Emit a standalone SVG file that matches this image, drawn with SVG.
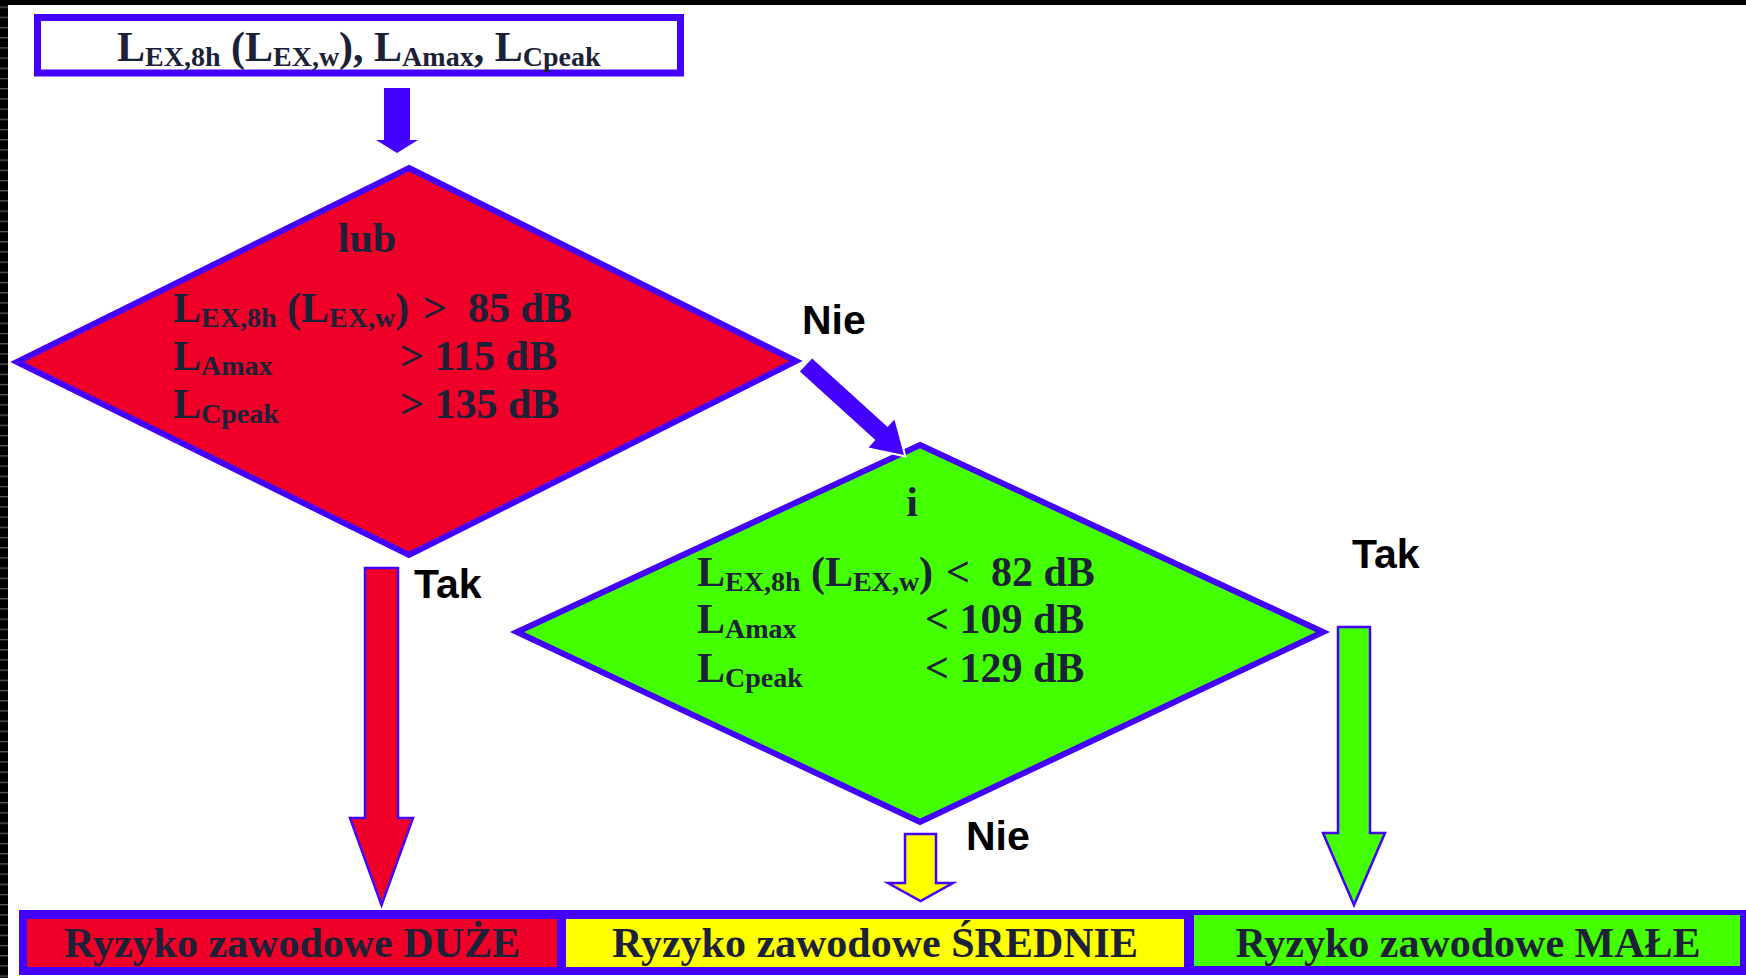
<svg xmlns="http://www.w3.org/2000/svg" width="1746" height="978" viewBox="0 0 1746 978">
<defs>
<pattern id="strip" x="0" y="0" width="8" height="10.2" patternUnits="userSpaceOnUse">
<rect width="8" height="10.2" fill="#000"/>
<rect y="6.5" width="8" height="1.3" fill="#5a5a5a"/>
</pattern>
<style>
.t{font-family:"Liberation Serif","Times New Roman",serif;font-weight:bold;font-size:42px;fill:#1b2238}
.s{font-size:28px}
.lbl{font-family:"Liberation Sans",Arial,sans-serif;font-weight:bold;font-size:41px;fill:#000}
.bl{stroke:#4400ff;stroke-width:6;stroke-linejoin:miter;stroke-miterlimit:20}
.arr{stroke:#4400ff;stroke-width:2.5;stroke-linejoin:miter;stroke-miterlimit:20}
</style>
</defs>
<rect width="1746" height="978" fill="#fff"/>
<rect x="0" y="0" width="1746" height="5" fill="#000"/>
<rect x="0" y="0" width="8" height="978" fill="url(#strip)"/>

<g id="start">
<rect x="37.5" y="17.5" width="643" height="55.5" fill="#fff" stroke="#4400ff" stroke-width="7"/>
<text class="t" x="117" y="61">L<tspan class="s" dy="5">EX,8h</tspan><tspan dy="-5"> (L</tspan><tspan class="s" dy="5">EX,w</tspan><tspan dy="-5">), L</tspan><tspan class="s" dy="5">Amax</tspan><tspan dy="-5">, L</tspan><tspan class="s" dy="5">Cpeak</tspan></text>
</g>

<g id="decision-high">
<polygon class="bl" points="409,168 796,361 409,555 17,362" fill="#f00028"/>
<text class="t" x="367" y="252" text-anchor="middle">lub</text>
<text class="t" x="173" y="322">L<tspan class="s" dy="5">EX,8h</tspan><tspan dy="-5"> (L</tspan><tspan class="s" dy="5">EX,w</tspan><tspan dy="-5">)</tspan><tspan x="423">&gt;</tspan><tspan x="468">85 dB</tspan></text>
<text class="t" x="173" y="370">L<tspan class="s" dy="5">Amax</tspan><tspan x="400" dy="-5">&gt; 115 dB</tspan></text>
<text class="t" x="173" y="418">L<tspan class="s" dy="5">Cpeak</tspan><tspan x="400" dy="-5">&gt; 135 dB</tspan></text>
</g>

<g id="decision-low">
<polygon class="bl" points="920,445 1323,632 920,822 517,632" fill="#44ff00"/>
<text class="t" x="912" y="516" text-anchor="middle">i</text>
<text class="t" x="697" y="586">L<tspan class="s" dy="5">EX,8h</tspan><tspan dy="-5"> (L</tspan><tspan class="s" dy="5">EX,w</tspan><tspan dy="-5">)</tspan><tspan x="946">&lt;</tspan><tspan x="991">82 dB</tspan></text>
<text class="t" x="697" y="633">L<tspan class="s" dy="5">Amax</tspan><tspan x="925" dy="-5">&lt; 109 dB</tspan></text>
<text class="t" x="697" y="682">L<tspan class="s" dy="5">Cpeak</tspan><tspan x="925" dy="-5">&lt; 129 dB</tspan></text>
</g>

<g id="results">
<rect x="19" y="910" width="1727" height="65" fill="#4400ff"/>
<g id="risk-high">
<rect x="27" y="919" width="530" height="48" fill="#f00028"/>
<text class="t" x="292" y="957" text-anchor="middle">Ryzyko zawodowe DUŻE</text>
</g>
<g id="risk-medium">
<rect x="566" y="919" width="618" height="48" fill="#ffff00"/>
<text class="t" x="875" y="957" text-anchor="middle">Ryzyko zawodowe ŚREDNIE</text>
</g>
<g id="risk-low">
<rect x="1194" y="915" width="546" height="51" fill="#44ff00"/>
<text class="t" x="1468" y="957" text-anchor="middle">Ryzyko zawodowe MAŁE</text>
</g>
</g>

<g id="connectors">
<polygon points="384,88 410,88 410,140 418,140 397,153 376,140 384,140" fill="#4400ff"/>
<polygon points="812.1,358.4 887.6,426.9 894.4,419.5 904,455 868.6,447.5 875.4,440.1 799.9,371.6" fill="#4400ff" stroke="#fff" stroke-width="4" paint-order="stroke" stroke-linejoin="miter"/>
<polygon class="arr" points="365,568 398,568 398,818 413,818 381.5,905 350,818 365,818" fill="#f00028"/>
<polygon class="arr" points="905,834 936,834 936,883 953,883 920.5,901 888,883 905,883" fill="#ffff00"/>
<polygon class="arr" points="1338,627 1370,627 1370,833 1385,833 1354,905 1323,833 1338,833" fill="#44ff00"/>
<text class="lbl" x="802" y="334">Nie</text>
<text class="lbl" x="414" y="598">Tak</text>
<text class="lbl" x="1352" y="568">Tak</text>
<text class="lbl" x="966" y="850">Nie</text>
</g>
</svg>
